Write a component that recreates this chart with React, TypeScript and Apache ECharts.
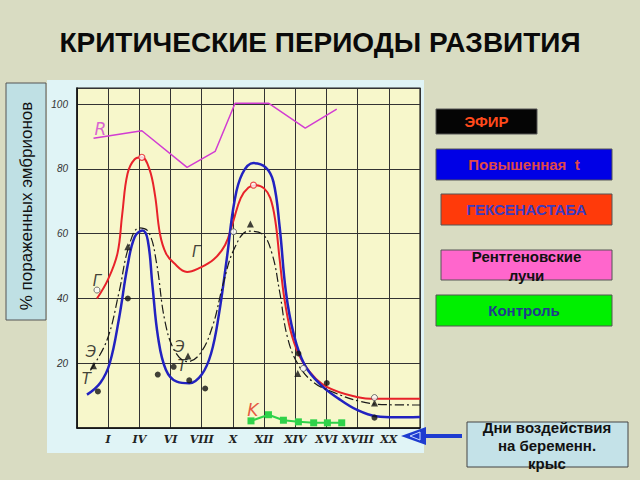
import React, { useEffect, useRef } from "react";
import * as echarts from "echarts";

const xLabels = ["", "I", "IV", "VI", "VIII", "X", "XII", "XIV", "XVI", "XVIII", "XX", ""];
const yTickValues = [0, 20, 40, 60, 80, 100];

const rentgenR = [
  [0.53, 89.5], [2.08, 91.8], [3.53, 80.5], [4.43, 85.4], [5.07, 100.3], [6.14, 100.3], [7.32, 92.6], [8.33, 98.5],
];
const heksenastabG = [
  [0.64, 40], [1.0, 46], [1.3, 54], [1.45, 66], [1.62, 78.5], [1.85, 83], [2.08, 83.6],
  [2.32, 80], [2.5, 72], [2.66, 60], [2.85, 54], [3.1, 51], [3.53, 48.2], [3.9, 49.3], [4.38, 52],
  [4.75, 56.5], [5.0, 63.5], [5.25, 71], [5.5, 74.3], [5.75, 75], [6.0, 74], [6.2, 71],
  [6.36, 64], [6.5, 52], [6.65, 40], [6.85, 30], [7.1, 23], [7.45, 17.5], [8.01, 12.7], [8.97, 9.6], [9.6, 9], [11, 9],
];
const temperatureT = [
  [0.32, 10.3], [0.75, 14], [1.05, 20], [1.35, 34], [1.62, 50], [1.85, 59], [2.1, 61], [2.27, 58],
  [2.42, 44], [2.6, 28], [2.85, 18], [3.2, 14.3], [3.6, 13.8], [4.0, 16.5], [4.3, 23], [4.55, 35],
  [4.8, 52], [5.05, 70], [5.3, 78.5], [5.66, 81.8], [6.05, 80.5], [6.3, 76],
  [6.5, 62], [6.7, 42], [6.95, 29], [7.3, 19.5], [7.8, 13.5], [8.4, 9], [9.0, 5.5], [9.6, 3.6], [10.2, 3.3], [11, 3.4],
];
const efirE = [
  [0.43, 17.8], [0.96, 27.1], [1.35, 42], [1.66, 56], [2.0, 61.8], [2.3, 60.5], [2.55, 51], [2.82, 33],
  [3.15, 23.5], [3.55, 20.5], [3.95, 23], [4.35, 31.5], [4.7, 45], [5.05, 55.5], [5.5, 60.8], [5.93, 60],
  [6.25, 54], [6.5, 42], [6.75, 28], [7.1, 19.5], [7.6, 14], [8.23, 11], [9.08, 8.2], [9.94, 7.2], [11, 7.1],
];
const controlK = [
  [5.58, 2.2], [6.14, 4.1], [6.62, 2.4], [7.1, 1.9], [7.59, 1.6], [8.03, 1.6], [8.49, 1.6],
];
const efirPoints = [[0.53, 19.2], [1.63, 56], [3.56, 22.2], [5.56, 63], [7.08, 16.8], [9.54, 7.7]];
const tempPoints = [[0.67, 11.3], [1.63, 40], [2.59, 16.5], [3.1, 18.9], [3.6, 14.7], [4.11, 12.2], [7.1, 23], [8.01, 13.9], [9.54, 3.2]];
const hollowDarkPoints = [[0.64, 42.6], [5.02, 60.6], [7.26, 18.4], [9.54, 9.4]];
const hollowRedPoints = [[2.08, 83.6], [5.66, 75]];
const curveNames = ["R", "Г", "Г", "Э", "T", "Э", "T", "K"];
const curveNamePos = [[0.75, 92.3], [0.64, 45.5], [3.82, 54.4], [0.45, 23.5], [0.3, 15], [3.29, 25], [3.37, 19.2], [5.64, 5.5]];
const curveNameColors = ["#d23cd2", "#111", "#111", "#111", "#111", "#111", "#111", "#e03020"];

const title = "КРИТИЧЕСКИЕ ПЕРИОДЫ РАЗВИТИЯ";
const yAxisTitle = "% пораженных эмбрионов";
const legendItems = [
  { text: "ЭФИР", fill: "#050505", color: "#ff4a1c", x: 436, y: 109, w: 101, h: 25, lines: [121.5] },
  { text: "Повышенная  t", fill: "#0000e6", color: "#e04848", x: 436, y: 149, w: 176, h: 31, lines: [164.5] },
  { text: "ГЕКСЕНАСТАБА", fill: "#ff3a0a", color: "#3c3cc0", x: 441, y: 194, w: 171, h: 31, lines: [209.5] },
  { text: "Рентгеновские\nлучи", fill: "#ff66cc", color: "#111", x: 441, y: 250, w: 171, h: 30, lines: [256.5, 275] },
  { text: "Контроль", fill: "#00f000", color: "#1e3c8c", x: 436, y: 295, w: 176, h: 31, lines: [310] },
];
const footnote = ["Дни воздействия", "на беременн.", "крыс"];

export default function App() {
  const ref = useRef<HTMLDivElement>(null);
  useEffect(() => {
    if (!ref.current) return;
    const chart = echarts.init(ref.current, null, { renderer: "svg" });
    const font = "'Liberation Sans', Arial, sans-serif";

    const graphics: any[] = [];
    graphics.push({ type: "rect", z: -5, shape: { x: 47, y: 80, width: 377, height: 373 }, style: { fill: "#e0f4f6" } });
    graphics.push({
      type: "text", x: 320, y: 42,
      style: { text: title, font: `bold 28px ${font}`, fill: "#0a0a0a", align: "center", verticalAlign: "middle" },
    });
    graphics.push({ type: "rect", shape: { x: 6, y: 83, width: 40, height: 237 }, style: { fill: "#bfe0e4", stroke: "#555", lineWidth: 1 } });
    graphics.push({
      type: "text", x: 26, y: 206, rotation: Math.PI / 2,
      style: { text: yAxisTitle, font: `17px ${font}`, fill: "#111", align: "center", verticalAlign: "middle" },
    });
    legendItems.forEach((it) => {
      graphics.push({ type: "rect", shape: { x: it.x, y: it.y, width: it.w, height: it.h }, style: { fill: it.fill, stroke: "#555", lineWidth: 1 } });
      const parts = it.text.split("\n");
      parts.forEach((p, i) => {
        graphics.push({
          type: "text", x: it.x + it.w / 2, y: it.lines[i],
          style: { text: p, font: `bold 15px ${font}`, fill: it.color, align: "center", verticalAlign: "middle" },
        });
      });
    });
    graphics.push({ type: "rect", shape: { x: 467, y: 422, width: 161, height: 45 }, style: { fill: "#c4e2e8", stroke: "#444", lineWidth: 1 } });
    const fnY = [427, 445, 463];
    footnote.forEach((t, i) => {
      graphics.push({
        type: "text", x: 547, y: fnY[i],
        style: { text: t, font: `bold 15px ${font}`, fill: "#111", align: "center", verticalAlign: "middle" },
      });
    });
    graphics.push({ type: "line", shape: { x1: 424, y1: 436, x2: 462, y2: 436 }, style: { stroke: "#1e3cd0", lineWidth: 4 } });
    graphics.push({ type: "polygon", shape: { points: [[401, 436], [426, 427], [426, 445]] }, style: { fill: "#1e3cd0" } });
    graphics.push({ type: "polygon", shape: { points: [[410, 436], [420, 432], [420, 440]] }, style: { fill: "none", stroke: "#c8d8ff", lineWidth: 1 } });

    const lineSeries = (data: number[][], color: string, width: number, type: any, smooth: boolean) => ({
      type: "line", data, smooth: smooth ? 0.4 : false, showSymbol: false, symbol: "none",
      lineStyle: { color, width, type }, z: 3,
    });

    chart.setOption({
      animation: false,
      backgroundColor: "#d9dcc2",
      graphic: graphics,
      grid: { left: 77, top: 88, width: 343, height: 340, show: true, backgroundColor: "#f7f7cb", borderColor: "#222", borderWidth: 1.2 },
      xAxis: {
        type: "value", min: 0, max: 11, interval: 1,
        axisLine: { show: true, lineStyle: { color: "#111", width: 1.5 } },
        axisTick: { show: false },
        splitLine: { show: true, lineStyle: { color: "#333", width: 1 } },
        axisLabel: {
          margin: 6, color: "#222", fontFamily: "'DejaVu Serif', serif", fontStyle: "italic", fontWeight: "bold", fontSize: 11,
          formatter: (v: number) => xLabels[Math.round(v)] ?? "",
        },
      },
      yAxis: {
        type: "value", min: 0, max: 105, interval: 20,
        axisLine: { show: true, lineStyle: { color: "#111", width: 1.5 } },
        axisTick: { show: false },
        splitLine: { show: true, lineStyle: { color: "#333", width: 1 } },
        axisLabel: {
          margin: 9, color: "#333", fontFamily: font, fontStyle: "italic", fontSize: 10,
          formatter: (v: number) => (yTickValues.includes(v) && v > 0 ? String(v) : ""),
        },
      },
      series: [
        lineSeries(rentgenR, "#d23cd2", 1.5, "solid", false),
        lineSeries(heksenastabG, "#e8222a", 2, "solid", true),
        lineSeries(temperatureT, "#2222c0", 2.5, "solid", true),
        lineSeries(efirE, "#1a1a1a", 1.2, [9, 3, 2, 3], true),
        {
          type: "line", data: controlK, symbol: "rect", symbolSize: 7, showSymbol: true,
          lineStyle: { color: "#2fd24a", width: 2 }, itemStyle: { color: "#2fd24a" }, z: 4,
        },
        { type: "scatter", data: efirPoints, symbol: "triangle", symbolSize: 7, itemStyle: { color: "#111" }, z: 5 },
        { type: "scatter", data: tempPoints, symbol: "circle", symbolSize: 6, itemStyle: { color: "#111" }, z: 5 },
        { type: "scatter", data: hollowDarkPoints, symbol: "circle", symbolSize: 6, itemStyle: { color: "#fafafa", borderColor: "#555", borderWidth: 1 }, z: 5 },
        { type: "scatter", data: hollowRedPoints, symbol: "circle", symbolSize: 6, itemStyle: { color: "#fafafa", borderColor: "#e8222a", borderWidth: 1.2 }, z: 5 },
        {
          type: "scatter", symbolSize: 0, z: 6,
          data: curveNames.map((n, i) => ({
            value: curveNamePos[i], name: n,
            label: { color: curveNameColors[i], fontSize: n === "R" || n === "K" ? 17 : 15 },
          })),
          label: {
            show: true, position: "inside", formatter: (p: any) => p.name,
            fontFamily: "'DejaVu Sans', sans-serif", fontStyle: "italic",
          },
        },
      ],
    });
    return () => chart.dispose();
  }, []);
  return <div ref={ref} style={{ position: "fixed", left: 0, top: 0, width: 640, height: 480 }} />;
}
